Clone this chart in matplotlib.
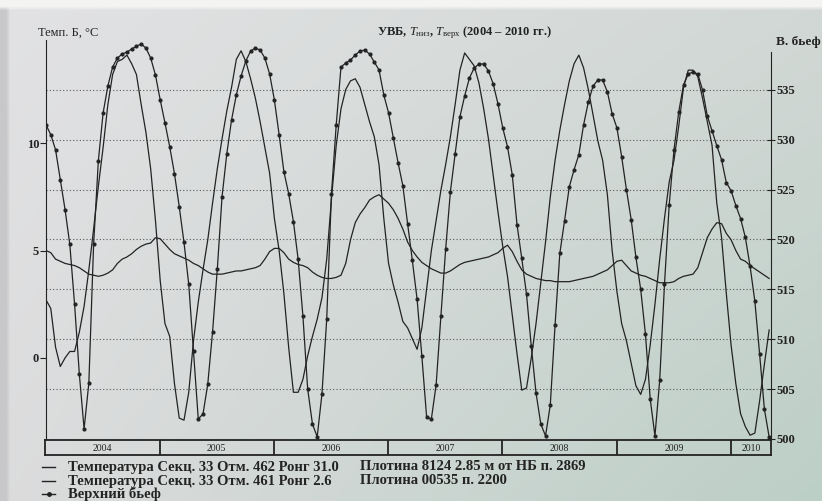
import matplotlib.pyplot as plt
import numpy as np
from matplotlib.lines import Line2D
from matplotlib.colors import to_rgb

plt.rcParams['font.family'] = ['Liberation Serif', 'DejaVu Serif']
plt.rcParams['mathtext.fontset'] = 'custom'
plt.rcParams['mathtext.rm'] = 'Liberation Serif'
plt.rcParams['mathtext.it'] = 'Liberation Serif:italic'

# значения через полмесяца, начиная с января 2004
pool = [531.5, 530.5, 529.0, 526.0, 523.0, 519.5, 513.5, 506.5, 501.0, 505.6, 519.5, 527.9,
        532.7, 535.4, 537.3, 538.2, 538.6, 538.8, 539.1, 539.4, 539.6, 539.2, 538.2, 536.5,
        534.0, 531.7, 529.3, 526.6, 523.3, 519.7, 515.5, 508.8, 502.0, 502.5, 505.5, 510.7,
        517.0, 524.3, 528.6, 532.0, 534.5, 536.4, 537.9, 538.9, 539.2, 539.0, 538.2, 536.6,
        534.0, 530.5, 526.8, 524.6, 521.8, 518.0, 512.3, 505.0, 501.5, 500.2, 504.5, 512.0,
        524.6, 531.5, 537.3, 537.7, 538.0, 538.5, 538.9, 539.0, 538.6, 537.8, 537.0, 534.5,
        532.7, 530.2, 527.7, 525.4, 521.6, 517.9, 514.0, 508.3, 502.2, 502.0, 505.4, 512.3,
        519.0, 524.8, 528.6, 532.3, 534.4, 536.2, 537.2, 537.6, 537.6, 536.9, 535.6, 533.6,
        531.2, 529.3, 526.5, 521.5, 518.1, 514.5, 509.3, 504.6, 501.5, 500.3, 503.4, 511.4,
        518.6, 521.9, 525.3, 527.0, 528.5, 531.5, 533.8, 535.4, 536.0, 536.0, 534.8, 532.6,
        531.2, 528.3, 525.0, 522.0, 518.2, 515.0, 510.5, 504.0, 500.3, 505.9, 515.5, 523.5,
        529.0, 532.8, 535.5, 536.6, 536.8, 536.6, 535.0, 532.4, 530.9, 529.4, 528.0, 525.7,
        524.9, 523.4, 522.1, 520.2, 517.3, 513.8, 508.5, 503.0, 500.2]

temp_31 = [2.7, 2.3, 0.5, -0.4, 0.0, 0.3, 0.3, 1.2, 2.4, 4.1, 6.0, 8.0,
           9.8, 11.8, 13.2, 13.8, 13.9, 14.1, 13.7, 13.2, 11.8, 10.5, 8.8, 6.4,
           3.6, 1.6, 1.0, -1.2, -2.8, -2.9, -1.6, 0.8, 2.6, 4.1, 5.5, 7.2,
           8.8, 10.2, 11.5, 12.6, 13.9, 14.3, 13.8, 13.0, 12.1, 11.0, 9.8, 8.6,
           6.5, 5.0, 3.0, 0.5, -1.6, -1.6, -1.0, 0.1, 1.0, 1.8, 2.8, 4.6,
           7.4, 9.9, 11.6, 12.5, 12.9, 13.0, 12.6, 11.8, 11.0, 10.3, 9.0, 6.5,
           4.4, 3.4, 2.6, 1.7, 1.4, 0.9, 0.4, 1.4, 3.2, 5.0, 6.4, 7.8,
           9.0, 10.3, 11.8, 13.4, 14.2, 13.9, 13.6, 12.8, 11.6, 10.2, 8.5, 6.8,
           5.2, 3.8, 2.0, 0.2, -1.5, -1.4, 0.0, 1.6, 3.5, 5.4, 7.5, 9.2,
           10.6, 11.8, 12.9, 13.7, 14.1, 13.5, 12.5, 11.3, 10.1, 9.2, 7.6, 5.0,
           3.1, 1.6, 0.8, -0.25, -1.3, -1.7, -1.0, 0.6, 2.5, 4.6, 6.5, 8.2,
           9.2, 10.8, 12.6, 13.4, 13.4, 13.1, 12.1, 11.0, 9.9, 7.2, 5.6, 3.0,
           0.6, -1.2, -2.6, -3.2, -3.6, -3.5, -2.0, -0.3, 1.3]

temp_26 = [5.0, 4.9, 4.6, 4.5, 4.4, 4.35, 4.3, 4.2, 4.05, 3.9, 3.85, 3.8,
           3.85, 3.95, 4.1, 4.4, 4.6, 4.7, 4.85, 5.05, 5.2, 5.3, 5.35, 5.6,
           5.55, 5.3, 5.05, 4.85, 4.75, 4.65, 4.55, 4.4, 4.3, 4.15, 4.0, 3.9,
           3.9, 3.9, 3.95, 4.0, 4.05, 4.05, 4.1, 4.15, 4.2, 4.3, 4.6, 4.95,
           5.1, 5.1, 4.9, 4.6, 4.45, 4.35, 4.3, 4.2, 4.0, 3.85, 3.75, 3.7,
           3.7, 3.75, 3.85, 4.4, 5.5, 6.3, 6.7, 7.0, 7.35, 7.5, 7.6, 7.4,
           7.2, 6.9, 6.5, 6.0, 5.4, 5.0, 4.7, 4.45, 4.3, 4.15, 4.05, 3.95,
           3.95, 4.05, 4.2, 4.35, 4.45, 4.5, 4.55, 4.6, 4.65, 4.7, 4.8, 4.9,
           5.1, 5.25, 4.95, 4.5, 4.1, 3.9, 3.8, 3.7, 3.65, 3.6, 3.6, 3.55,
           3.55, 3.55, 3.55, 3.6, 3.65, 3.7, 3.75, 3.8, 3.9, 4.0, 4.1, 4.3,
           4.5, 4.55, 4.3, 4.05, 3.95, 3.85, 3.8, 3.7, 3.6, 3.5, 3.5, 3.5,
           3.55, 3.7, 3.8, 3.85, 3.9, 4.2, 4.9, 5.6, 6.0, 6.3, 6.25, 5.8,
           5.5, 5.0, 4.6, 4.5, 4.3, 4.15, 4.0, 3.85, 3.7]

years = [2004, 2005, 2006, 2007, 2008, 2009, 2010]
left_ticks = [0, 5, 10]
right_ticks = [500, 505, 510, 515, 520, 525, 530, 535]

t = years[0] + np.arange(len(pool)) / 24.0
x_end = 2010.35

ink = '#232323'

fig = plt.figure(figsize=(8.22, 5.01), dpi=100)

# фон как у фотографии: светло-серый слева, зеленоватый справа
bga = fig.add_axes([0, 0, 1, 1], zorder=-10)
gx = np.linspace(0, 1, 200)[None, :, None]
gy = np.linspace(0, 1, 120)[:, None, None]
tl, tr = np.array(to_rgb('#e2e2e4')), np.array(to_rgb('#d2d8d5'))
bl, br = np.array(to_rgb('#dcdcdd')), np.array(to_rgb('#bccfc6'))
img = (1 - gy) * ((1 - gx) * tl + gx * tr) + gy * ((1 - gx) * bl + gx * br)
img[:, :2] = to_rgb('#c8c8ca')
img[:2, :] = to_rgb('#f4f4f3')
bga.imshow(img, aspect='auto', extent=(0, 1, 0, 1), origin='upper', interpolation='bilinear')
bga.set_axis_off()

ax = fig.add_axes([0.056, 0.124, 0.882, 0.796])
ax2 = ax.twinx()
ax.set_zorder(ax2.get_zorder() + 1)
ax.patch.set_visible(False)
ax2.patch.set_visible(False)

# верхний бьеф (правая ось)
ax2.plot(t, pool, color=ink, lw=0.9, marker='o', ms=2.0, mfc=ink, mec=ink)
ax2.set_ylim(500, 540)
ax2.set_yticks(right_ticks)
ax2.yaxis.grid(True, linestyle=(0, (1, 2)), color='#5a5a5a', lw=0.8)
ax2.set_axisbelow(True)

# температуры (левая ось)
ax.plot(t, temp_31, color=ink, lw=0.9)
ax.plot(t, temp_26, color=ink, lw=0.9)
ax.set_ylim(-3.77, 14.8)
ax.set_yticks(left_ticks)
ax.set_xlim(years[0], x_end)
ax2.set_xlim(years[0], x_end)

for a in (ax, ax2):
    a.set_xticks([])
    for s in ('top', 'bottom'):
        a.spines[s].set_visible(False)
ax.spines['right'].set_visible(False)
ax2.spines['left'].set_visible(False)
ax.spines['left'].set_color(ink)
ax2.spines['right'].set_color(ink)
ax2.spines['right'].set_bounds(500, 538.8)
ax.tick_params(axis='y', direction='out', length=4, colors=ink, labelsize=9, pad=1)
ax2.tick_params(axis='y', direction='inout', length=6, colors=ink, labelsize=9, pad=1)
for lab in ax.get_yticklabels() + ax2.get_yticklabels():
    lab.set_fontweight('bold')

# полоса с годами
axb = fig.add_axes([0.055, 0.092, 0.883, 0.030])
axb.set_xlim(years[0], x_end)
axb.set_ylim(0, 1)
axb.set_xticks([])
axb.set_yticks([])
axb.patch.set_visible(False)
for s in axb.spines.values():
    s.set_linewidth(1.3)
    s.set_color(ink)
for y in years[1:]:
    axb.axvline(y, color=ink, lw=1.3)
for i, y in enumerate(years):
    right = years[i + 1] if i + 1 < len(years) else x_end
    axb.text((y + right) / 2, 0.45, str(y), ha='center', va='center', fontsize=7, color=ink)

# подписи
fig.text(38 / 822, 1 - 33 / 501, 'Темп. Б, °С', fontsize=9, color=ink, va='center')
fig.text(465 / 822, 1 - 33 / 501,
         'УВБ, $T_{\\mathrm{низ}}$, $T_{\\mathrm{верх}}$ (2004 – 2010 гг.)',
         fontsize=9, color=ink, ha='center', va='center', fontweight='bold')
fig.text(776 / 822, 1 - 42 / 501, 'В. бьеф', fontsize=9.5, color=ink, va='center',
         fontweight='bold')

# легенда
leg_rows = [1 - 467 / 501, 1 - 481 / 501, 1 - 494 / 501]
leg_left = ['Температура Секц. 33 Отм. 462 Ронг 31.0',
            'Температура Секц. 33 Отм. 461 Ронг 2.6',
            'Верхний бьеф']
leg_right = ['Плотина 8124 2.85 м от НБ п. 2869', 'Плотина 00535 п. 2200']
for i, (yy, s) in enumerate(zip(leg_rows, leg_left)):
    fig.add_artist(Line2D([42 / 822, 55 / 822], [yy, yy], color=ink, lw=1.0,
                          transform=fig.transFigure))
    if i == 2:
        fig.add_artist(Line2D([48.5 / 822], [yy], marker='o', ms=2.5, color=ink,
                              transform=fig.transFigure))
    fig.text(68 / 822, yy, s, fontsize=10.5, color=ink, va='center', fontweight='bold')
for yy, s in zip(leg_rows, leg_right):
    fig.text(360 / 822, yy, s, fontsize=10.5, color=ink, va='center', fontweight='bold')

fig.savefig('out.png', dpi=100)
